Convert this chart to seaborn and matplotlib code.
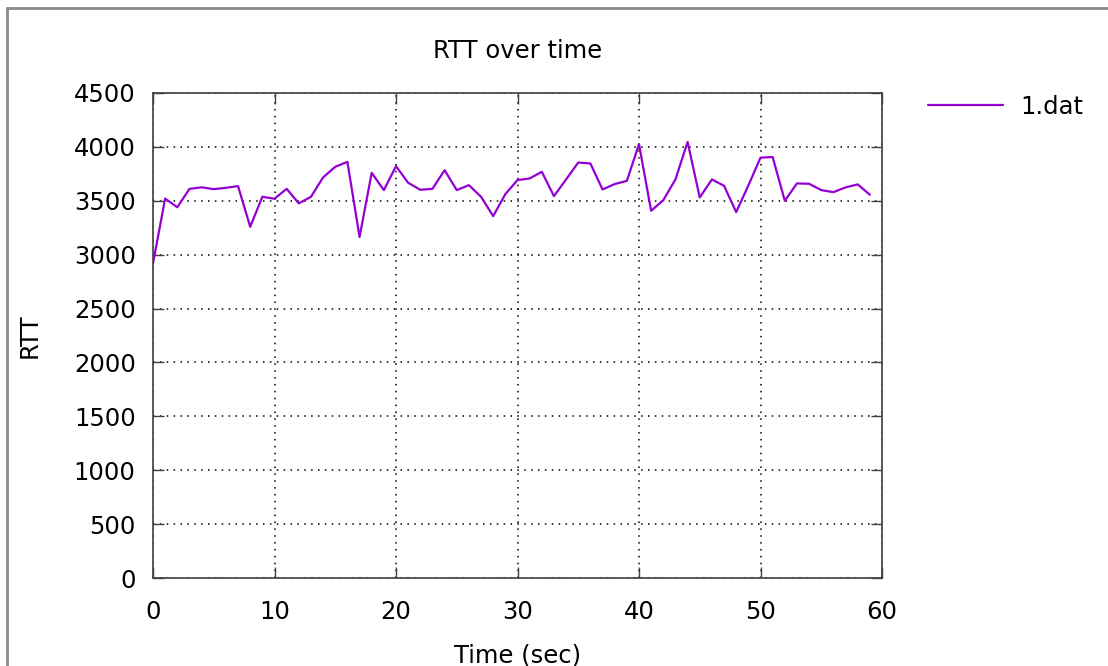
import matplotlib
matplotlib.use("Agg")
import matplotlib.pyplot as plt
from matplotlib.lines import Line2D
import seaborn as sns
import pandas as pd

time_sec = list(range(60))
rtt = [2920, 3520, 3440, 3610, 3625, 3608, 3620, 3636, 3259, 3537,
       3519, 3611, 3476, 3537, 3717, 3815, 3861, 3164, 3759, 3599,
       3821, 3667, 3602, 3611, 3784, 3599, 3645, 3537, 3358, 3562,
       3692, 3707, 3769, 3543, 3698, 3855, 3846, 3605, 3655, 3685,
       4025, 3407, 3506, 3698, 4046, 3531, 3698, 3639, 3395, 3642,
       3900, 3906, 3500, 3661, 3658, 3599, 3580, 3624, 3652, 3556]
x_ticks = [0, 10, 20, 30, 40, 50, 60]
y_ticks = [0, 500, 1000, 1500, 2000, 2500, 3000, 3500, 4000, 4500]

sns.set_theme(style="white")
plt.rcParams['font.family'] = ['DejaVu Sans']
plt.rcParams['text.color'] = 'black'
plt.rcParams['axes.labelcolor'] = 'black'

FS = 17.5

df = pd.DataFrame({"Time (sec)": time_sec, "RTT": rtt})

W, H = 1108, 666
fig = plt.figure(figsize=(W / 100, H / 100), dpi=100)
ax = fig.add_axes([153 / W, 1 - 578 / H, (882 - 153) / W, (578 - 93) / H])

sns.lineplot(data=df, x="Time (sec)", y="RTT", ax=ax, color="#9400D3",
             linewidth=1.6, label="1.dat")

ax.set_xlim(0, 60)
ax.set_ylim(0, 4500)
ax.set_xticks(x_ticks)
ax.set_yticks(y_ticks)
ax.grid(True, color="black", linestyle=(0, (1, 3.5)), linewidth=1.1)
ax.tick_params(direction="in", length=8, width=1, colors="#404040",
               labelcolor="black", labelsize=FS, top=True, right=True,
               bottom=True, left=True)
ax.tick_params(axis="x", pad=16)
ax.tick_params(axis="y", pad=12.5)
for s in ax.spines.values():
    s.set_color("#404040")
    s.set_linewidth(1.2)
    s.set_visible(True)

ax.set_title("RTT over time", fontsize=FS, pad=25, color="black")
ax.set_xlabel("Time (sec)", fontsize=FS, labelpad=14)
ax.set_ylabel("RTT", fontsize=FS, labelpad=23)

ax.legend(loc="center left", bbox_to_anchor=(928 / W, 1 - 107 / H),
          bbox_transform=fig.transFigure, frameon=False, fontsize=FS,
          handlelength=3.1, handletextpad=0.7, borderaxespad=0, borderpad=0)

# outer window frame
fig.add_artist(Line2D([7 / W, 1], [1 - 8 / H, 1 - 8 / H], transform=fig.transFigure,
                      color="#8a8a8a", linewidth=2))
fig.add_artist(Line2D([7 / W, 7 / W], [0, 1 - 8 / H], transform=fig.transFigure,
                      color="#8a8a8a", linewidth=2))

fig.savefig("out.png", dpi=100, facecolor="white")
